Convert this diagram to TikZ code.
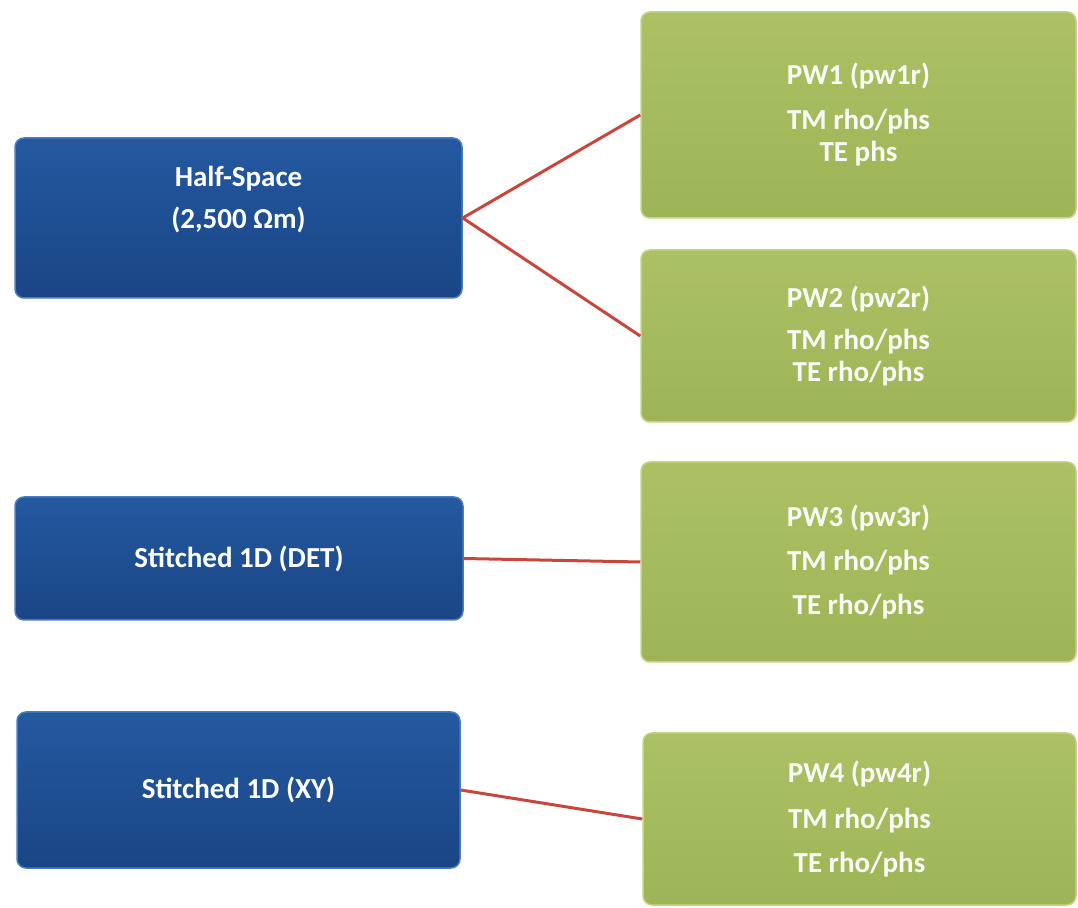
\documentclass[tikz,border=0pt]{standalone}
\usepackage{fontspec}
\setmainfont{Carlito}

\definecolor{bluetop}{HTML}{2459A0}
\definecolor{bluebot}{HTML}{1A4585}
\definecolor{blueedge}{HTML}{4A7CC0}
\definecolor{greentop}{HTML}{ABC163}
\definecolor{greenbot}{HTML}{9EB557}
\definecolor{greenedge}{HTML}{C3D489}
\definecolor{wirered}{HTML}{C8473D}

\tikzset{
  modelbox/.style={draw=blueedge, line width=1.5pt, rounded corners=9pt,
    top color=bluetop, bottom color=bluebot, text=white, align=center,
    inner sep=0pt, font=\bfseries\fontsize{29}{32}\selectfont},
  pwbox/.style={draw=greenedge, line width=1.5pt, rounded corners=9pt,
    top color=greentop, bottom color=greenbot, text=white!94!greentop,
    align=center, inner sep=0pt, font=\bfseries\fontsize{29}{32}\selectfont},
  wire/.style={draw=wirered, line width=3pt}
}

\begin{document}
\begin{tikzpicture}[x=1pt,y=1pt]
\useasboundingbox (0,0) rectangle (1078,907);

% models
\node[modelbox, minimum width=447, minimum height=160] (hs) at (238.5,689)
  {\raisebox{17pt}[\height][\depth]{\begin{tabular}{c}Half-Space\\[10pt](2,500 Ωm)\end{tabular}}};
\node[modelbox, minimum width=448, minimum height=123] (det) at (239,348.5) {Stitched 1D (DET)};
\node[modelbox, minimum width=443, minimum height=156] (xy) at (238.5,117) {Stitched 1D (XY)};

% inversions
\node[pwbox, minimum width=435, minimum height=206] (pw1) at (858.5,792)
  {PW1 (pw1r)\\[13pt]TM rho/phs\\TE phs};
\node[pwbox, minimum width=435, minimum height=172] (pw2) at (858.5,571)
  {PW2 (pw2r)\\[10pt]TM rho/phs\\TE rho/phs};
\node[pwbox, minimum width=435, minimum height=200] (pw3) at (858.5,345)
  {PW3 (pw3r)\\[12pt]TM rho/phs\\[12pt]TE rho/phs};
\node[pwbox, minimum width=433, minimum height=172] (pw4) at (859.5,88)
  {PW4 (pw4r)\\[14pt]TM rho/phs\\[12pt]TE rho/phs};

\draw[wire] (hs.east) -- (pw1.west);
\draw[wire] (hs.east) -- (pw2.west);
\draw[wire] (det.east) -- (pw3.west);
\draw[wire] (xy.east) -- (pw4.west);
\end{tikzpicture}
\end{document}
